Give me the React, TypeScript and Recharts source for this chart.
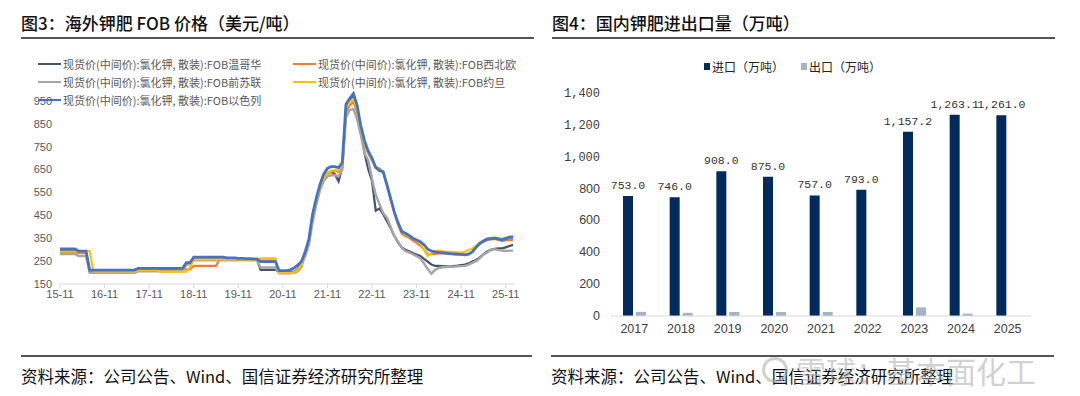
import { Bar, BarChart, LabelList, Line, LineChart, XAxis, YAxis } from "recharts";

// 图3: monthly FOB prices, index 0 = 2015-11 ... 122 = 2026-01 (USD/t)
const vancouver = [
  297, 297, 297, 297, 297, 290, 290, 290, 205, 205, 205, 205,
  205, 205, 205, 205, 205, 205, 205, 205, 205, 210, 210, 210,
  210, 210, 210, 210, 210, 210, 210, 210, 210, 210, 240, 240,
  258, 258, 258, 258, 258, 258, 258, 258, 258, 258, 258, 258,
  258, 258, 258, 256, 256, 256, 212, 212, 212, 212, 212, 203,
  203, 203, 203, 203, 215, 240, 280, 330, 440, 510, 570, 615,
  635, 640, 630, 598, 660, 920, 950, 975, 910, 820, 720, 650,
  600, 470, 480, 455, 425, 395, 360, 332, 310, 300, 293, 285,
  279, 272, 260, 248, 235, 229, 229, 228, 227, 226, 228, 230,
  233, 235, 240, 248, 255, 265, 280, 292, 299, 304, 306, 306,
  310, 316, 321,
];
const nwEurope = [
  290, 290, 290, 290, 290, 285, 285, 285, 205, 205, 205, 205,
  205, 205, 205, 205, 205, 205, 205, 205, 205, 207, 207, 207,
  207, 207, 207, 214, 214, 214, 214, 214, 214, 214, 214, 214,
  229, 229, 229, 229, 229, 229, 229, 259, 259, 259, 259, 259,
  259, 259, 259, 259, 259, 259, 252, 252, 252, 252, 252, 198,
  198, 198, 198, 198, 205, 225, 280, 330, 440, 510, 570, 610,
  630, 640, 645, 640, 670, 900, 930, 945, 900, 820, 760, 720,
  690, 660, 655, 640, 580, 520, 460, 410, 370, 360, 352, 340,
  330, 318, 300, 280, 280, 282, 284, 284, 283, 282, 282, 281,
  280, 277, 280, 290, 308, 325, 335, 342, 345, 347, 343, 338,
  340, 343, 343,
];
const formerUssr = [
  281, 281, 281, 281, 281, 272, 272, 272, 199, 199, 199, 199,
  199, 199, 199, 199, 199, 199, 199, 199, 199, 205, 205, 205,
  205, 205, 205, 205, 205, 205, 205, 205, 205, 205, 235, 235,
  253, 253, 253, 253, 253, 253, 253, 253, 253, 253, 253, 253,
  253, 253, 253, 253, 253, 253, 222, 222, 222, 222, 222, 197,
  197, 197, 197, 200, 210, 235, 270, 320, 420, 495, 560, 600,
  620, 625, 625, 620, 650, 880, 910, 915, 870, 800, 720, 690,
  610, 540, 500, 460, 440, 400, 360, 335, 310, 293, 288, 280,
  272, 262, 240, 215, 195, 212, 220, 223, 224, 225, 226, 227,
  228, 229, 235, 242, 250, 262, 278, 288, 300, 302, 298, 296,
  294, 296, 296,
];
const jordan = [
  292, 292, 292, 292, 292, 294, 294, 294, 294, 205, 205, 205,
  205, 205, 205, 205, 205, 205, 205, 205, 205, 210, 210, 210,
  210, 210, 210, 204, 204, 204, 204, 204, 204, 204, 204, 223,
  258, 258, 258, 258, 258, 258, 258, 258, 258, 258, 258, 258,
  258, 258, 258, 258, 258, 258, 262, 262, 262, 262, 262, 200,
  200, 200, 200, 200, 210, 235, 285, 335, 445, 515, 575, 615,
  635, 645, 648, 645, 675, 915, 945, 960, 910, 830, 765, 725,
  695, 655, 648, 638, 580, 520, 460, 412, 375, 366, 358, 348,
  338, 330, 300, 272, 285, 294, 296, 293, 291, 290, 289, 288,
  287, 290, 299, 305, 318, 328, 340, 350, 352, 353, 350, 348,
  352, 358, 360,
];
const israel = [
  303, 303, 303, 303, 303, 294, 294, 294, 211, 211, 211, 211,
  211, 211, 211, 211, 211, 211, 211, 211, 211, 218, 218, 218,
  218, 218, 218, 218, 218, 218, 218, 218, 218, 218, 243, 243,
  267, 267, 267, 267, 267, 267, 267, 267, 267, 264, 264, 264,
  262, 262, 261, 261, 260, 260, 248, 248, 248, 248, 248, 208,
  208, 208, 212, 220, 232, 248, 290, 345, 455, 525, 585, 630,
  655, 663, 663, 658, 680, 935, 960, 982, 930, 840, 775, 730,
  700, 660, 645, 641, 585, 525, 465, 418, 380, 372, 362, 350,
  342, 335, 322, 302, 294, 290, 288, 287, 285, 283, 281, 280,
  279, 277, 280, 290, 310, 328, 338, 346, 348, 350, 347, 343,
  348, 354, 354,
];
const priceTicks = [150, 250, 350, 450, 550, 650, 750, 850, 950];
const monthTicks = [0, 12, 24, 36, 48, 60, 72, 84, 96, 108, 120];

// 图4
const years = ["2017", "2018", "2019", "2020", "2021", "2022", "2023", "2024", "2025"];
const imports = [753.0, 746.0, 908.0, 875.0, 757.0, 793.0, 1157.2, 1263.1, 1261.0];
const exports = [26, 20, 25, 25, 25, 0, 54, 15, 0];
const volumeTicks = [0, 200, 400, 600, 800, 1000, 1200, 1400];

const series = [
  { key: "vancouver", name: "现货价(中间价):氯化钾, 散装):FOB温哥华", color: "#44546A", width: 2.2 },
  { key: "nwEurope", name: "现货价(中间价):氯化钾, 散装):FOB西北欧", color: "#ED7D31", width: 2.2 },
  { key: "formerUssr", name: "现货价(中间价):氯化钾, 散装):FOB前苏联", color: "#A5A5A5", width: 2.4 },
  { key: "jordan", name: "现货价(中间价):氯化钾, 散装):FOB约旦", color: "#FFC000", width: 2.2 },
  { key: "israel", name: "现货价(中间价):氯化钾, 散装):FOB以色列", color: "#4472C4", width: 2.8 },
];

const priceData = israel.map((_, i) => ({
  m: i,
  vancouver: vancouver[i],
  nwEurope: nwEurope[i],
  formerUssr: formerUssr[i],
  jordan: jordan[i],
  israel: israel[i],
}));

const volumeData = years.map((year, i) => ({ year, imports: imports[i], exports: exports[i] }));

const cjk = '"Noto Sans CJK SC", "Noto Sans", sans-serif';
const axisText = { fontSize: 11, fill: "#595959", fontFamily: '"Liberation Sans", Arial, sans-serif' };

const fmtVolume = (v: number) =>
  v.toLocaleString("en-US", { minimumFractionDigits: 1, maximumFractionDigits: 1 });

function VolumeTick({ x, y, payload }: any) {
  const v = payload.value as number;
  const big = v >= 1000;
  return (
    <text
      x={x}
      y={y}
      dy={4}
      textAnchor="end"
      fill="#404040"
      fontSize={big ? 12 : 12.5}
      fontFamily={big ? '"Liberation Mono", monospace' : '"Liberation Sans", Arial, sans-serif'}
    >
      {v.toLocaleString("en-US")}
    </text>
  );
}

function PriceLegend() {
  const pos = [
    [38, 64],
    [293, 64],
    [38, 82],
    [293, 82],
    [38, 100],
  ];
  return (
    <>
      {series.map((s, i) => (
        <div
          key={s.key}
          style={{
            position: "absolute",
            left: pos[i][0],
            top: pos[i][1] - 8,
            height: 16,
            display: "flex",
            alignItems: "center",
            fontSize: 11,
            color: "#595959",
            fontFamily: cjk,
            whiteSpace: "nowrap",
          }}
        >
          <span style={{ width: 23, height: 2.5, background: s.color, marginRight: 2 }} />
          {s.name}
        </div>
      ))}
    </>
  );
}

function Rule({ left, top, width }: { left: number; top: number; width: number }) {
  return <div style={{ position: "absolute", left, top, width, height: 2, background: "#555" }} />;
}

export default function App() {
  return (
    <div style={{ position: "relative", width: 1080, height: 396, background: "#fff", fontFamily: cjk, overflow: "hidden" }}>
      <style>{"body{margin:0}"}</style>

      <div style={{ position: "absolute", left: 21, top: 10, fontSize: 17, fontWeight: 500, color: "#111", whiteSpace: "nowrap" }}>
        图3：海外钾肥 FOB 价格（美元/吨）
      </div>
      <Rule left={21} top={37} width={513} />
      <div style={{ position: "absolute", left: 552, top: 10, fontSize: 17, fontWeight: 500, color: "#111", whiteSpace: "nowrap" }}>
        图4：国内钾肥进出口量（万吨）
      </div>
      <Rule left={552} top={37} width={503} />

      <div style={{ position: "absolute", left: 0, top: 0 }}>
        <LineChart width={540} height={320} data={priceData} margin={{ top: 78, right: 25, left: 0, bottom: 6 }}>
          <XAxis
            type="number"
            dataKey="m"
            domain={[0, 122.5]}
            ticks={monthTicks}
            tickFormatter={(m: number) => `${15 + m / 12}-11`}
            tick={axisText}
            axisLine={{ stroke: "#d9d9d9" }}
            tickLine={{ stroke: "#d9d9d9" }}
            tickSize={4}
            height={30}
          />
          <YAxis
            domain={[150, 1050]}
            ticks={priceTicks}
            tick={axisText}
            axisLine={false}
            tickLine={false}
            width={60}
          />
          {series.map((s) => (
            <Line
              key={s.key}
              dataKey={s.key}
              stroke={s.color}
              strokeWidth={s.width}
              dot={false}
              type="linear"
              isAnimationActive={false}
            />
          ))}
        </LineChart>
      </div>
      <PriceLegend />

      <div style={{ position: "absolute", left: 540, top: 0 }}>
        <BarChart width={540} height={345} data={volumeData} margin={{ top: 93, right: 49, left: 0, bottom: 4 }} barGap={3}>
          <XAxis
            dataKey="year"
            tick={{ ...axisText, fontSize: 12.5, fill: "#404040" }}
            axisLine={{ stroke: "#d9d9d9" }}
            tickLine={false}
            height={25}
          />
          <YAxis
            domain={[0, 1400]}
            ticks={volumeTicks}
            tick={<VolumeTick />}
            axisLine={false}
            tickLine={false}
            tickMargin={5}
            width={71}
          />
          <Bar dataKey="imports" fill="#022A5A" barSize={10} isAnimationActive={false}>
            <LabelList
              dataKey="imports"
              position="top"
              offset={7}
              formatter={(v: any) => fmtVolume(Number(v))}
              style={{ fontSize: 11.5, fill: "#333", fontFamily: '"Liberation Mono", monospace' }}
            />
          </Bar>
          <Bar dataKey="exports" fill="#A5B3C4" barSize={10} isAnimationActive={false} />
        </BarChart>
      </div>

      <div style={{ position: "absolute", left: 704, top: 58, display: "flex", alignItems: "center", fontSize: 12, color: "#222", whiteSpace: "nowrap" }}>
        <span style={{ width: 6, height: 7, background: "#022A5A", marginRight: 2 }} />
        进口（万吨）
        <span style={{ width: 6, height: 7, background: "#A5B3C4", marginLeft: 17, marginRight: 2 }} />
        出口（万吨）
      </div>

      <Rule left={21} top={355} width={511} />
      <Rule left={551} top={355} width={503} />
      <div style={{ position: "absolute", left: 21, top: 364, fontSize: 16.5, color: "#111", whiteSpace: "nowrap" }}>
        资料来源：公司公告、Wind、国信证券经济研究所整理
      </div>
      <div style={{ position: "absolute", left: 551, top: 364, fontSize: 16.5, color: "#111", whiteSpace: "nowrap" }}>
        资料来源：公司公告、Wind、国信证券经济研究所整理
      </div>

      <div
        style={{
          position: "absolute",
          left: 762,
          top: 348,
          display: "flex",
          alignItems: "center",
          color: "rgba(170,170,170,0.55)",
          fontSize: 30,
          whiteSpace: "nowrap",
        }}
      >
        <span
          style={{
            width: 26,
            height: 26,
            border: "3px solid rgba(170,170,170,0.55)",
            borderRadius: "50%",
            marginRight: 8,
            boxSizing: "border-box",
          }}
        />
        雪球：基本面化工
      </div>
    </div>
  );
}
